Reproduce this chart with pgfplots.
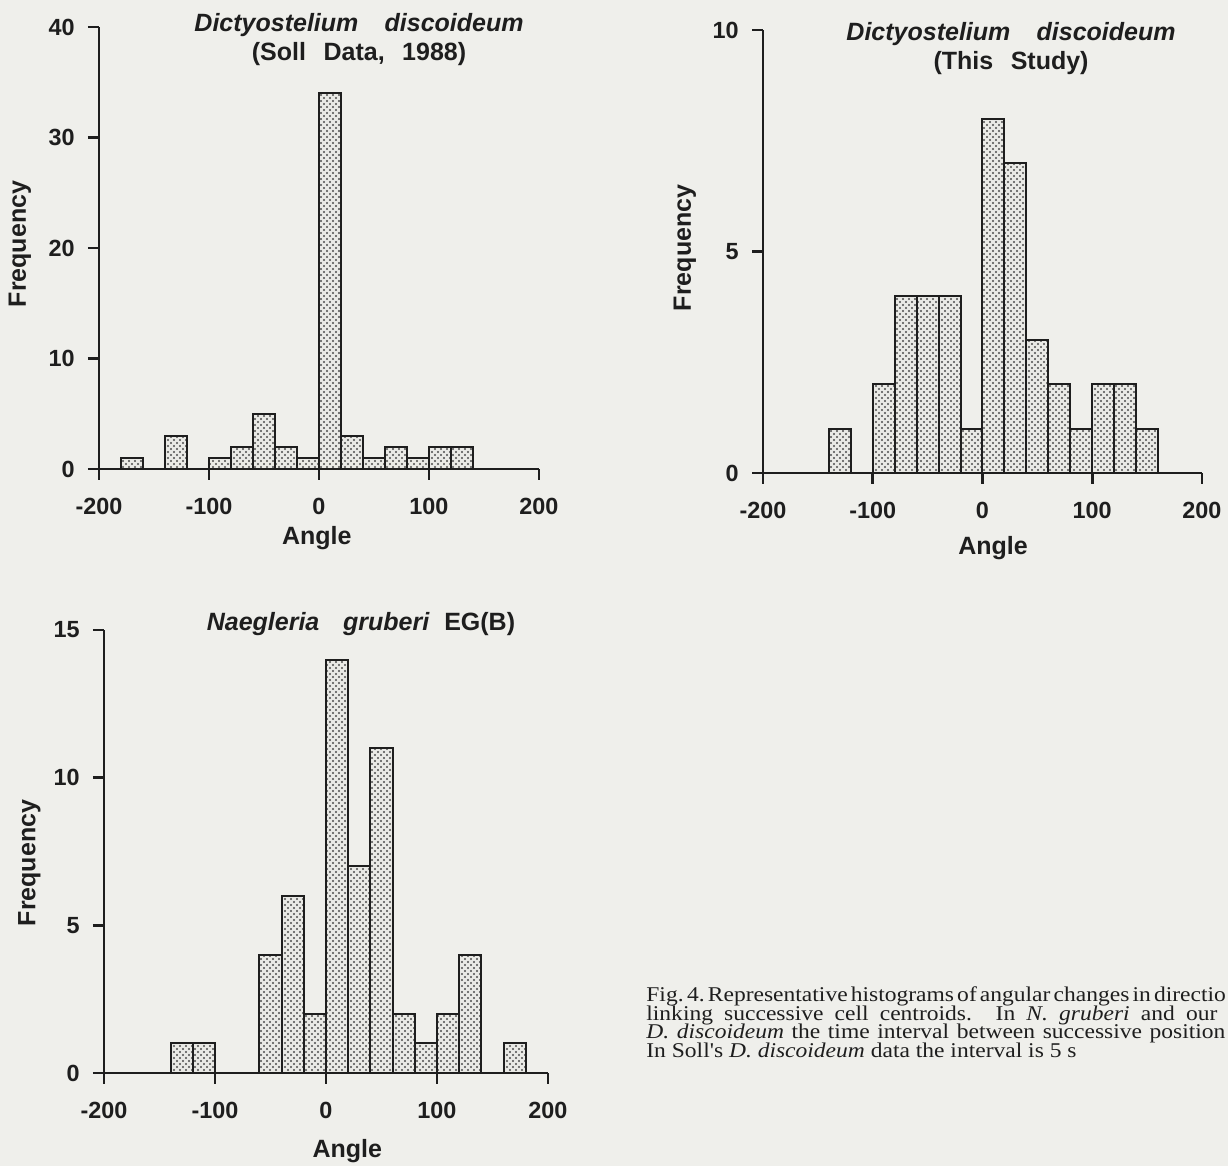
\documentclass[border=0pt]{standalone}
\usepackage{fontspec}
\setmainfont{Liberation Sans}
\newfontfamily\capfont[FakeStretch=1.12]{Liberation Serif}
\usepackage{pgfplots}
\pgfplotsset{compat=1.18}
\usetikzlibrary{patterns}
\definecolor{bg}{RGB}{239,239,235}
\definecolor{barfill}{RGB}{234,234,230}
\definecolor{ink}{RGB}{30,30,30}

\pgfdeclarepatternformonly{mydots}{\pgfqpoint{-0.6pt}{-0.6pt}}{\pgfqpoint{3pt}{3pt}}{\pgfqpoint{3pt}{3pt}}{%
  \pgfpathcircle{\pgfqpoint{0pt}{0pt}}{0.52pt}%
  \pgfpathcircle{\pgfqpoint{1.5pt}{1.5pt}}{0.52pt}%
  \pgfusepath{fill}}

\pgfplotsset{
  hist/.style={
    scale only axis,
    axis lines*=left,
    axis line style={line width=1.3pt, ink},
    xmin=-200, xmax=200, ymin=0,
    xtick={-200,-100,0,100,200},
    xticklabels={-200,-100,0,100,200},
    tick align=outside,
    major tick length=5.5pt,
    tick style={line width=1.3pt, ink},
    ticklabel style={font=\fontsize{11.7}{12}\selectfont\bfseries, text=ink},
    /pgf/number format/assume math mode=true,
    xticklabel style={anchor=center, yshift=-13pt},
    yticklabel style={anchor=east, inner sep=0pt, xshift=-6.5pt},
    label style={font=\fontsize{12.5}{14}\selectfont\bfseries, text=ink},
    clip=false,
    ybar, bar width=20,
  },
  bars/.style={fill=barfill, draw=ink, line width=1pt,
    postaction={pattern=mydots, pattern color=black!70}},
}

\begin{document}
\begin{tikzpicture}
\fill[bg] (0,0) rectangle (614pt,583pt);
\useasboundingbox (0,0) rectangle (614pt,583pt);

% Panel 1: Soll data
\begin{axis}[hist,
  at={(49.5pt,348.5pt)}, anchor=south west,
  width=220pt, height=221pt,
  ymax=40, ytick={0,10,20,30,40}, yticklabels={0,10,20,30,40},
  xlabel={Angle}, ylabel={Frequency},
  xlabel style={at={(axis description cs:0.495,-0.156)}, anchor=center},
  ylabel style={at={(axis description cs:-0.180,0.509)}, anchor=center},
]
\addplot[bars] coordinates {(-170,1) (-130,3) (-90,1) (-70,2) (-50,5) (-30,2) (-10,1) (10,34) (30,3) (50,1) (70,2) (90,1) (110,2) (130,2)};
\node[align=center, font=\fontsize{12.5}{14.5}\selectfont\bfseries, text=ink] at (axis cs:36.4,38.9)
  {\itshape Dictyostelium\hspace{1.05em}discoideum\\(Soll\hspace{0.7em}Data,\hspace{0.7em}1988)};
\end{axis}

% Panel 2: This study
\begin{axis}[hist,
  at={(381.5pt,346.5pt)}, anchor=south west,
  width=219.5pt, height=221.5pt,
  ymax=10, ytick={0,5,10}, yticklabels={0,5,10},
  xlabel={Angle}, ylabel={Frequency},
  xlabel style={at={(axis description cs:0.524,-0.170)}, anchor=center},
  ylabel style={at={(axis description cs:-0.178,0.508)}, anchor=center},
]
\addplot[bars] coordinates {(-130,1) (-90,2) (-70,4) (-50,4) (-30,4) (-10,1) (10,8) (30,7) (50,3) (70,2) (90,1) (110,2) (130,2) (150,1)};
\node[align=center, font=\fontsize{12.5}{14.5}\selectfont\bfseries, text=ink] at (axis cs:26,9.58)
  {\itshape Dictyostelium\hspace{1.05em}discoideum\\(This\hspace{0.7em}Study)};
\end{axis}

% Panel 3: Naegleria
\begin{axis}[hist,
  at={(52pt,46.5pt)}, anchor=south west,
  width=222pt, height=221.5pt,
  ymax=15, ytick={0,5,10,15}, yticklabels={0,5,10,15},
  xlabel={Angle}, ylabel={Frequency},
  xlabel style={at={(axis description cs:0.548,-0.176)}, anchor=center},
  ylabel style={at={(axis description cs:-0.168,0.474)}, anchor=center},
]
\addplot[bars] coordinates {(-130,1) (-110,1) (-50,4) (-30,6) (-10,2) (10,14) (30,7) (50,11) (70,2) (90,1) (110,2) (130,4) (170,1)};
\node[font=\fontsize{12.5}{14.5}\selectfont\bfseries, text=ink] at (axis cs:31.5,15.2)
  {\itshape Naegleria\hspace{0.95em}gruberi\hspace{0.6em}\upshape EG(B)};
\end{axis}

% Caption
\begin{scope}[every node/.style={anchor=base west, inner sep=0pt, text=ink, font=\capfont\fontsize{10.5}{9}\selectfont}]
\node at (323pt,82pt) {\spaceskip=0.15em plus 0.3em\relax\makebox[289pt][s]{Fig.\,4.\ Representative histograms of angular changes in directio}};
\node at (323pt,72.75pt) {\makebox[285.5pt][s]{linking successive cell centroids. In \textit{N. gruberi} and our}};
\node at (323pt,63.5pt) {\makebox[289.5pt][s]{\textit{D. discoideum} the time interval between successive position}};
\node at (323pt,54.25pt) {In Soll's \textit{D. discoideum} data the interval is 5 s};
\end{scope}
\end{tikzpicture}
\end{document}
